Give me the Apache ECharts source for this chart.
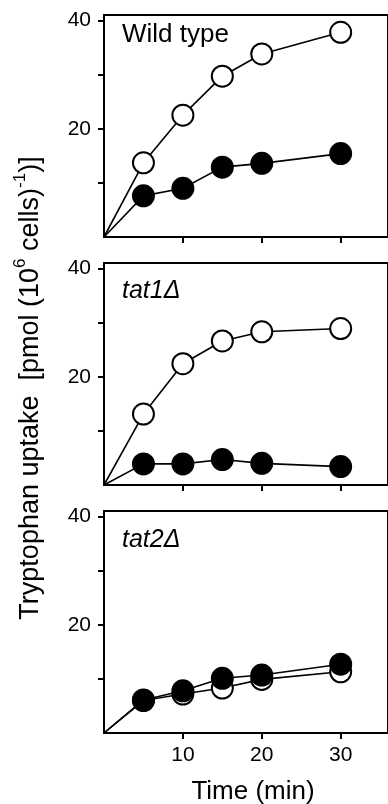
<!DOCTYPE html>
<html>
<head>
<meta charset="utf-8">
<script src="https://cdn.jsdelivr.net/npm/echarts@6/dist/echarts.min.js"></script>
<style>
  html, body { margin: 0; padding: 0; background: #fff; }
  #chart { width: 388px; height: 804px; }
</style>
</head>
<body>
<div id="chart"></div>
<script>
(function () {
  "use strict";
  const chart = echarts.init(document.getElementById("chart"));

  // time points (min); the first point is the origin, drawn without a marker
  const times = [0, 5, 10, 15, 20, 30];
  const wtOpen = [0, 13.7, 22.5, 29.7, 33.8, 37.8];
  const wtFilled = [0, 7.6, 9.0, 12.9, 13.6, 15.4];
  const tat1Open = [0, 13.1, 22.4, 26.6, 28.3, 28.9];
  const tat1Filled = [0, 3.9, 3.9, 4.7, 4.0, 3.4];
  const tat2Open = [0, 6.0, 7.2, 8.3, 9.9, 11.3];
  const tat2Filled = [0, 6.1, 7.8, 10.1, 10.7, 12.7];
  const panelNames = ["Wild type", "tat1Δ", "tat2Δ"];
  const yTicks = [10, 20, 30, 40];
  const yLabels = [20, 40];
  const xTicks = [10, 20, 30];

  const font = "Liberation Sans";
  const tops = [15, 263, 511];
  const panels = [[wtOpen, wtFilled], [tat1Open, tat1Filled], [tat2Open, tat2Filled]];

  const pts = vals => times.map((t, i) => i === 0 ? { value: [t, vals[i]], symbol: "none" } : [t, vals[i]]);
  const only = list => v => (list.indexOf(v) >= 0 ? String(v) : "");

  // right edge of the frame is cut off by the picture, so the grid runs past the canvas
  const grid = tops.map(top => ({
    left: 104, width: 295, top: top, height: 222,
    show: true, borderColor: "#000", borderWidth: 2, backgroundColor: "transparent",
  }));

  const xAxis = tops.map((_, i) => ({
    type: "value", gridIndex: i, min: 0, max: 36, interval: 10,
    splitLine: { show: false },
    axisLine: { lineStyle: { color: "#000", width: 2 } },
    axisTick: { customValues: xTicks, length: 6, lineStyle: { color: "#000", width: 2 } },
    axisLabel: {
      show: i === 2, formatter: only(xTicks), margin: 12,
      showMinLabel: false, showMaxLabel: false,
      color: "#000", fontFamily: font, fontSize: 21,
    },
  }));

  const yAxis = tops.map((_, i) => ({
    type: "value", gridIndex: i, min: 0, max: 41, interval: 10,
    splitLine: { show: false },
    axisLine: { lineStyle: { color: "#000", width: 2 } },
    axisTick: { customValues: yTicks, length: 6, lineStyle: { color: "#000", width: 2 } },
    axisLabel: {
      formatter: only(yLabels), margin: 13, showMaxLabel: false,
      color: "#000", fontFamily: font, fontSize: 21,
    },
  }));

  const series = [];
  panels.forEach(([open, filled], i) => {
    const base = {
      type: "line", xAxisIndex: i, yAxisIndex: i, symbol: "circle", symbolSize: 21,
      lineStyle: { color: "#000", width: 1.6 }, silent: true,
    };
    series.push(Object.assign({}, base, {
      data: pts(open), z: 2,
      itemStyle: { color: "#fff", borderColor: "#000", borderWidth: 2 },
    }));
    series.push(Object.assign({}, base, {
      data: pts(filled), z: 3,
      itemStyle: { color: "#000", borderColor: "#000", borderWidth: 2 },
    }));
  });

  const graphic = [
    {
      type: "text", x: 122, y: 35,
      style: { text: panelNames[0], fontFamily: font, fontSize: 26, fill: "#000", verticalAlign: "middle" },
    },
    {
      type: "text", x: 122, y: 291,
      style: { text: panelNames[1], fontFamily: font, fontSize: 25, fontStyle: "italic", fill: "#000", verticalAlign: "middle" },
    },
    {
      type: "text", x: 122, y: 540,
      style: { text: panelNames[2], fontFamily: font, fontSize: 25, fontStyle: "italic", fill: "#000", verticalAlign: "middle" },
    },
    {
      type: "text", x: 253, y: 792,
      style: { text: "Time (min)", fontFamily: font, fontSize: 26, fill: "#000", align: "center", verticalAlign: "middle" },
    },
    {
      type: "text", x: 28, y: 388, rotation: Math.PI / 2,
      style: {
        text: "{n|Tryptophan uptake  [pmol (10}{s|6}{n| cells)}{s|-1}{n|)]}",
        align: "center", verticalAlign: "middle",
        rich: {
          n: { fontFamily: font, fontSize: 27, fill: "#000", verticalAlign: "bottom", lineHeight: 32 },
          s: { fontFamily: font, fontSize: 17, fill: "#000", verticalAlign: "top", lineHeight: 32 },
        },
      },
    },
  ];

  chart.setOption({
    animation: false,
    backgroundColor: "#fff",
    grid: grid,
    xAxis: xAxis,
    yAxis: yAxis,
    series: series,
    graphic: graphic,
  });

  window.addEventListener("resize", () => chart.resize());
})();
</script>
</body>
</html>
